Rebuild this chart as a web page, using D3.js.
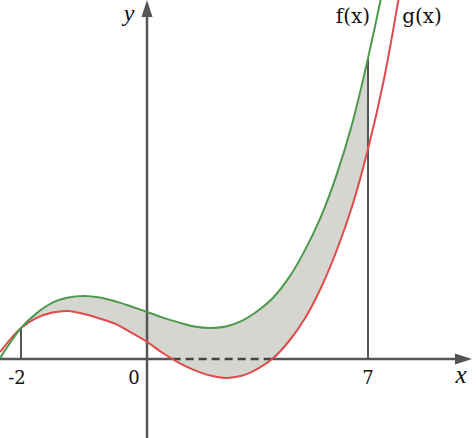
<!DOCTYPE html>
<meta charset="utf-8">
<style>
	body { margin: 0; background: #fff; }
	svg { display: block; }
</style>
<body>
<script src="https://cdn.jsdelivr.net/npm/d3@7"></script>
<script>

	// sample points
	var xs    = [-2.333, -2, -1.75, -1.5, -1.25, -1, -0.75, -0.5, -0.25, 0, 0.5, 1, 1.5, 2, 2.5, 3, 3.5, 4, 4.5, 5, 5.5, 6, 6.5, 7, 7.5, 8];
	var fVals = [0.03, 1.03, 1.53, 1.88, 2.05, 2.1, 2.05, 1.92, 1.75, 1.57, 1.38, 1.22, 1.08, 1.03, 1.08, 1.27, 1.6, 2.05, 2.72, 3.62, 4.72, 6.12, 7.85, 10.03, 12.5, 15.4];
	var gVals = [0.23, 1.03, 1.37, 1.55, 1.6, 1.5, 1.35, 1.17, 0.88, 0.57, 0.2, -0.12, -0.37, -0.55, -0.63, -0.56, -0.33, 0.03, 0.6, 1.35, 2.35, 3.6, 5.1, 7.0, 9.3, 12.2];

	var tickVals = [-2, 0, 7];
	var tickLabels = ["-2", "0", "7"];
	var bounds = [-2, 7];
	var curveNames = ["f(x)", "g(x)"];

	var width = 476, height = 438;
	var green = "#4b9a4b", red = "#e04a4a", axisCol = "#555", fillCol = "#d6d6d0";

	// the drawing is schematic: the left and right parts of the x axis use different units
	var x = d3.scaleLinear().domain([-2.333, 0, 10.42]).range([0, 147, 476]);
	var y = d3.scaleLinear().domain([0, 12]).range([359, -1]);

	var pts = xs.map(function(d, i) { return {x: d, f: fVals[i], g: gVals[i]}; });
	var smooth = d3.curveCatmullRom.alpha(0.5);

	var svg = d3.select("body").append("svg")
		.attr("width", width)
		.attr("height", height);

	// shaded region between the curves
	var inside = pts.filter(function(d) { return d.x >= bounds[0] && d.x <= bounds[1]; });
	svg.append("path")
		.datum(inside)
		.attr("d", d3.area().curve(smooth)
			.x(function(d) { return x(d.x); })
			.y0(function(d) { return y(d.g); })
			.y1(function(d) { return y(d.f); }))
		.attr("fill", fillCol);

	// zeros of g, where the axis turns dashed
	var zeros = [];
	for (var i = 1; i < pts.length; i++) {
		var a = pts[i-1], b = pts[i];
		if ((a.g < 0) != (b.g < 0)) zeros.push(a.x + (b.x - a.x) * a.g / (a.g - b.g));
	}

	// x axis
	svg.append("line")
		.attr("x1", 0).attr("x2", x(zeros[0]))
		.attr("y1", y(0)).attr("y2", y(0))
		.attr("stroke", axisCol).attr("stroke-width", 2.5);
	svg.append("line")
		.attr("x1", x(zeros[0])).attr("x2", x(zeros[1]))
		.attr("y1", y(0)).attr("y2", y(0))
		.attr("stroke", "#444").attr("stroke-width", 2.5)
		.attr("stroke-dasharray", "8,5");
	svg.append("line")
		.attr("x1", x(zeros[1])).attr("x2", 458)
		.attr("y1", y(0)).attr("y2", y(0))
		.attr("stroke", axisCol).attr("stroke-width", 2.5);
	svg.append("path")
		.attr("d", "M455," + (y(0)-5.5) + "L472," + y(0) + "L455," + (y(0)+5.5) + "Z")
		.attr("fill", axisCol);

	// y axis
	svg.append("line")
		.attr("x1", x(0)).attr("x2", x(0))
		.attr("y1", height).attr("y2", 14)
		.attr("stroke", axisCol).attr("stroke-width", 2.5);
	svg.append("path")
		.attr("d", "M" + (x(0)-5.5) + ",17L" + x(0) + ",0L" + (x(0)+5.5) + ",17Z")
		.attr("fill", axisCol);

	// bounds of the region
	svg.selectAll("line.bound")
		.data(bounds)
		.enter()
		.append("line")
		.attr("class", "bound")
		.attr("x1", function(d) { return x(d); })
		.attr("x2", function(d) { return x(d); })
		.attr("y1", y(0))
		.attr("y2", function(d) { return y(fVals[xs.indexOf(d)]); })
		.attr("stroke", axisCol)
		.attr("stroke-width", 2);

	// curves
	var line = function(key) {
		return d3.line().curve(smooth)
			.x(function(d) { return x(d.x); })
			.y(function(d) { return y(d[key]); });
	};
	svg.append("path").datum(pts)
		.attr("d", line("g"))
		.attr("fill", "none").attr("stroke", red).attr("stroke-width", 2);
	svg.append("path").datum(pts)
		.attr("d", line("f"))
		.attr("fill", "none").attr("stroke", green).attr("stroke-width", 2);

	// tick labels
	svg.selectAll("text.tick")
		.data(tickVals)
		.enter()
		.append("text")
		.attr("class", "tick")
		.text(function(d, i) { return tickLabels[i]; })
		.attr("x", function(d) { return x(d) + (d == 0 ? -13 : (d < 0 ? -4 : 0)); })
		.attr("y", 384)
		.attr("text-anchor", "middle")
		.attr("font-family", "DejaVu Serif")
		.attr("font-size", "18px")
		.attr("fill", "#111");

	// axis names
	svg.append("text").text("x")
		.attr("x", 461).attr("y", 383)
		.attr("text-anchor", "middle")
		.attr("font-family", "Liberation Serif")
		.attr("font-style", "italic")
		.attr("font-size", "25px")
		.attr("fill", "#111");
	svg.append("text").text("y")
		.attr("x", 129).attr("y", 21)
		.attr("text-anchor", "middle")
		.attr("font-family", "Liberation Serif")
		.attr("font-style", "italic")
		.attr("font-size", "24px")
		.attr("fill", "#111");

	// curve names
	svg.selectAll("text.name")
		.data(curveNames)
		.enter()
		.append("text")
		.attr("class", "name")
		.text(function(d) { return d; })
		.attr("x", function(d, i) { return i == 0 ? 353 : 422; })
		.attr("y", 23)
		.attr("text-anchor", "middle")
		.attr("font-family", "DejaVu Serif")
		.attr("font-size", "20px")
		.attr("fill", "#111");

</script>
</body>
